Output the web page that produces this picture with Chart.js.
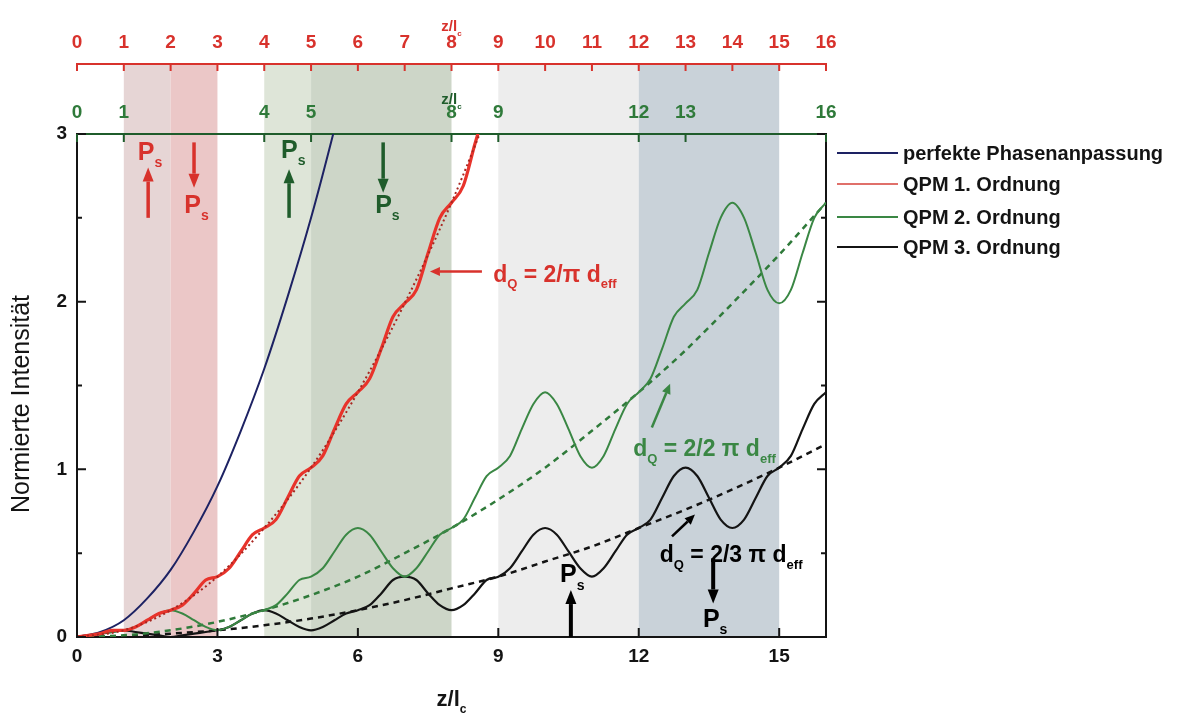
<!DOCTYPE html>
<html>
<head>
<meta charset="utf-8">
<script src="https://cdn.jsdelivr.net/npm/chart.js@4.4.1/dist/chart.umd.min.js"></script>
<style>
  html, body { margin: 0; padding: 0; background: #fff; }
  #wrap { width: 1204px; height: 713px; }
</style>
</head>
<body>
<div id="wrap"><canvas id="chart" width="1204" height="713"></canvas></div>
<script>
// z / l_c sample positions
const zFine = [0,0.25,0.5,0.75,1,1.25,1.5,1.75,2,2.25,2.5,2.75,3,3.25,3.5,3.75,4,4.25,4.5,4.75,5,5.25,5.5,5.75,6,6.25,6.5,6.75,7,7.25,7.5,7.75,8,8.25,8.5,8.75,9,9.25,9.5,9.75,10,10.25,10.5,10.75,11,11.25,11.5,11.75,12,12.25,12.5,12.75,13,13.25,13.5,13.75,14,14.25,14.5,14.75,15,15.25,15.5,15.75,16];
const zHalf = [0,0.5,1,1.5,2,2.5,3,3.5,4,4.5,5,5.5,6];
const zInt = [0,1,2,3,4,5,6,7,8,9,10,11,12,13,14,15,16];

const perfect = [0,0.03,0.10,0.23,0.40,0.63,0.90,1.23,1.60,2.03,2.50,3.03,3.60];
const qpm1 = [0,0.01,0.02,0.04,0.04,0.06,0.10,0.14,0.16,0.19,0.26,0.34,0.36,0.41,0.51,0.61,0.65,0.70,0.83,0.96,1.01,1.08,1.24,1.39,1.46,1.54,1.72,1.91,1.99,2.07,2.29,2.50,2.59,2.69,2.94,3.18];
const qpm1Avg = [0,0.04,0.16,0.36,0.65,1.01,1.46,1.99,2.59,3.28];
const qpm2 = [0,0.01,0.02,0.03,0.04,0.06,0.10,0.14,0.16,0.14,0.10,0.06,0.04,0.06,0.10,0.14,0.16,0.19,0.26,0.34,0.36,0.41,0.51,0.61,0.65,0.61,0.51,0.41,0.36,0.41,0.51,0.61,0.65,0.70,0.83,0.96,1.01,1.08,1.24,1.39,1.46,1.39,1.24,1.08,1.01,1.08,1.24,1.39,1.46,1.54,1.72,1.91,1.99,2.07,2.29,2.50,2.59,2.50,2.29,2.07,1.99,2.07,2.29,2.50,2.59];
const qpm2Avg = [0,0.01,0.04,0.09,0.16,0.25,0.36,0.50,0.65,0.82,1.01,1.23,1.46,1.71,1.99,2.28,2.59];
const qpm3 = [0,0.01,0.02,0.03,0.04,0.03,0.02,0.01,0,0.01,0.02,0.03,0.04,0.06,0.10,0.14,0.16,0.14,0.10,0.06,0.04,0.06,0.10,0.14,0.16,0.19,0.26,0.34,0.36,0.34,0.26,0.19,0.16,0.19,0.26,0.34,0.36,0.41,0.51,0.61,0.65,0.61,0.51,0.41,0.36,0.41,0.51,0.61,0.65,0.70,0.83,0.96,1.01,0.96,0.83,0.70,0.65,0.70,0.83,0.96,1.01,1.08,1.24,1.39,1.46];
const qpm3Avg = [0,0.005,0.02,0.04,0.07,0.11,0.16,0.22,0.29,0.36,0.45,0.54,0.65,0.76,0.88,1.01,1.15];

// axis ticks
const bottomTicks = [0,3,6,9,12,15];
const redTicks = [0,1,2,3,4,5,6,7,8,9,10,11,12,13,14,15,16];
const greenTicks = [0,1,4,5,8,9,12,13,16];
const yTicks = [0,1,2,3];
const yMinor = [0.5,1.5,2.5];

// shaded domains
const bandFrom = [1,2,4,5,9,12];
const bandTo = [2,3,5,8,12,15];
const bandColors = ['#e6d5d5','#ebc7c7','#dee5d8','#cdd6c8','#ededed','#c9d2d9'];

const legendNames = ['perfekte Phasenanpassung','QPM 1. Ordnung','QPM 2. Ordnung','QPM 3. Ordnung'];

const FONT = '"Liberation Sans", Arial, Helvetica, sans-serif';
const RED = '#d8322c';
const GREEN = '#3a8744';
const DKGREEN = '#1f5c2b';
const NAVY = '#1d2263';
const BLACK = '#141414';

const pts = (xs, ys) => ys.map((v, i) => ({x: xs[i], y: v}));

function rich(ctx, x, y, parts, size, color, align) {
  const sub = Math.round(size * 0.55);
  let w = 0;
  parts.forEach(p => {
    ctx.font = 'bold ' + (p.s ? sub : size) + 'px ' + FONT;
    w += ctx.measureText(p.t).width;
  });
  let cx = align === 'center' ? x - w / 2 : x;
  ctx.fillStyle = color;
  ctx.textAlign = 'left';
  ctx.textBaseline = 'alphabetic';
  parts.forEach(p => {
    ctx.font = 'bold ' + (p.s ? sub : size) + 'px ' + FONT;
    ctx.fillText(p.t, cx, y + (p.s ? size * 0.3 : 0));
    cx += ctx.measureText(p.t).width;
  });
}

function arrow(ctx, x1, y1, x2, y2, color, lw, hl, hw) {
  const a = Math.atan2(y2 - y1, x2 - x1);
  const bx = x2 - hl * Math.cos(a), by = y2 - hl * Math.sin(a);
  ctx.strokeStyle = color;
  ctx.lineWidth = lw;
  ctx.beginPath();
  ctx.moveTo(x1, y1);
  ctx.lineTo(bx, by);
  ctx.stroke();
  ctx.fillStyle = color;
  ctx.beginPath();
  ctx.moveTo(x2, y2);
  ctx.lineTo(bx + hw * Math.sin(a), by - hw * Math.cos(a));
  ctx.lineTo(bx - hw * Math.sin(a), by + hw * Math.cos(a));
  ctx.closePath();
  ctx.fill();
}

// annotation anchors in data units
const arrows = [
  {from: [1.52, 2.50], to: [1.52, 2.80], color: RED, lw: 3.5},
  {from: [2.50, 2.95], to: [2.50, 2.68], color: RED, lw: 3.5},
  {from: [4.53, 2.50], to: [4.53, 2.79], color: DKGREEN, lw: 3.5},
  {from: [6.54, 2.95], to: [6.54, 2.65], color: DKGREEN, lw: 3.5},
  {from: [10.55, 0], to: [10.55, 0.28], color: '#000', lw: 4},
  {from: [13.59, 0.47], to: [13.59, 0.20], color: '#000', lw: 4},
  {from: [8.65, 2.18], to: [7.54, 2.18], color: RED, lw: 2.5, thin: true},
  {from: [12.28, 1.25], to: [12.67, 1.51], color: GREEN, lw: 2.5, thin: true},
  {from: [12.71, 0.60], to: [13.20, 0.73], color: '#000', lw: 2.5, thin: true}
];
const psLabels = [
  {x: 1.30, y: 2.845, color: RED},
  {x: 2.29, y: 2.53, color: RED},
  {x: 4.36, y: 2.857, color: DKGREEN},
  {x: 6.37, y: 2.53, color: DKGREEN},
  {x: 10.32, y: 0.328, color: '#000'},
  {x: 13.37, y: 0.06, color: '#000'}
];
const dqLabels = [
  {x: 8.89, y: 2.12, t: ' = 2/\u03c0 d', color: RED},
  {x: 11.88, y: 1.08, t: ' = 2/2 \u03c0 d', color: GREEN},
  {x: 12.45, y: 0.447, t: ' = 2/3 \u03c0 d', color: '#000'}
];

const decor = {
  id: 'decor',
  beforeDraw(chart) {
    const {ctx, chartArea, scales} = chart;
    ctx.save();
    ctx.fillStyle = '#fff';
    ctx.fillRect(0, 0, chart.width, chart.height);
    const top = scales.xR.bottom + 1;
    bandFrom.forEach((a, i) => {
      const x1 = scales.x.getPixelForValue(a);
      const x2 = scales.x.getPixelForValue(bandTo[i]);
      ctx.fillStyle = bandColors[i];
      ctx.fillRect(x1, top, x2 - x1, chartArea.bottom - top);
    });
    ctx.restore();
  },
  afterDatasetsDraw(chart) {
    const {ctx, chartArea, scales} = chart;
    const sx = v => scales.x.getPixelForValue(v);
    const sy = v => scales.y.getPixelForValue(v);
    ctx.save();
    ctx.lineCap = 'butt';

    // inward ticks
    ctx.strokeStyle = BLACK;
    ctx.lineWidth = 2;
    ctx.beginPath();
    yTicks.forEach(v => {
      ctx.moveTo(chartArea.left, sy(v)); ctx.lineTo(chartArea.left + 9, sy(v));
      ctx.moveTo(chartArea.right, sy(v)); ctx.lineTo(chartArea.right - 9, sy(v));
    });
    yMinor.forEach(v => {
      ctx.moveTo(chartArea.left, sy(v)); ctx.lineTo(chartArea.left + 5, sy(v));
      ctx.moveTo(chartArea.right, sy(v)); ctx.lineTo(chartArea.right - 5, sy(v));
    });
    bottomTicks.forEach(v => {
      ctx.moveTo(sx(v), chartArea.bottom); ctx.lineTo(sx(v), chartArea.bottom - 9);
    });
    ctx.stroke();

    ctx.strokeStyle = RED;
    ctx.beginPath();
    const ry = scales.xR.bottom;
    redTicks.forEach(v => { ctx.moveTo(sx(v), ry); ctx.lineTo(sx(v), ry + 7); });
    ctx.stroke();

    ctx.strokeStyle = DKGREEN;
    ctx.beginPath();
    greenTicks.forEach(v => { ctx.moveTo(sx(v), chartArea.top); ctx.lineTo(sx(v), chartArea.top + 8); });
    ctx.stroke();

    // arrows and labels
    arrows.forEach(a => {
      arrow(ctx, sx(a.from[0]), sy(a.from[1]), sx(a.to[0]), sy(a.to[1]), a.color, a.lw,
        a.thin ? 10 : 14, a.thin ? 4.5 : 5.5);
    });
    psLabels.forEach(p => {
      rich(ctx, sx(p.x), sy(p.y), [{t: 'P'}, {t: 's', s: true}], 25, p.color, 'left');
    });
    dqLabels.forEach(p => {
      rich(ctx, sx(p.x), sy(p.y), [{t: 'd'}, {t: 'Q', s: true}, {t: p.t}, {t: 'eff', s: true}], 23, p.color, 'left');
    });

    // axis titles
    const mid = sx(8);
    rich(ctx, mid, 31, [{t: 'z/l'}, {t: 'c', s: true}], 15, RED, 'center');
    rich(ctx, mid, 104, [{t: 'z/l'}, {t: 'c', s: true}], 15, DKGREEN, 'center');
    rich(ctx, (chartArea.left + chartArea.right) / 2, 706, [{t: 'z/l'}, {t: 'c', s: true}], 22, BLACK, 'center');

    ctx.save();
    ctx.translate(22, 404);
    ctx.rotate(-Math.PI / 2);
    ctx.font = '25px ' + FONT;
    ctx.fillStyle = BLACK;
    ctx.textAlign = 'center';
    ctx.textBaseline = 'middle';
    ctx.fillText('Normierte Intensit\u00e4t', 0, 0);
    ctx.restore();

    // legend
    const legColors = [NAVY, '#e0706a', GREEN, BLACK];
    const legRows = [153, 184, 217, 247];
    legendNames.forEach((n, i) => {
      ctx.strokeStyle = legColors[i];
      ctx.lineWidth = 2;
      ctx.beginPath();
      ctx.moveTo(837, legRows[i]); ctx.lineTo(898, legRows[i]);
      ctx.stroke();
      ctx.font = 'bold 20px ' + FONT;
      ctx.fillStyle = BLACK;
      ctx.textAlign = 'left';
      ctx.textBaseline = 'middle';
      ctx.fillText(n, 903, legRows[i] + 1);
    });
    ctx.restore();
  }
};

const tickFont = {family: FONT, size: 19, weight: 'bold'};

new Chart(document.getElementById('chart'), {
  type: 'line',
  data: {
    datasets: [
      {data: pts(zInt, qpm1Avg), borderColor: '#a82620', borderWidth: 2, borderDash: [2, 3]},
      {data: pts(zFine, qpm1), borderColor: '#e8332b', borderWidth: 3.2},
      {data: pts(zHalf, perfect), borderColor: NAVY, borderWidth: 2},
      {data: pts(zFine, qpm2), borderColor: GREEN, borderWidth: 2},
      {data: pts(zInt, qpm2Avg), borderColor: '#2f7a3a', borderWidth: 2.5, borderDash: [6, 5]},
      {data: pts(zFine, qpm3), borderColor: BLACK, borderWidth: 2.2},
      {data: pts(zInt, qpm3Avg), borderColor: BLACK, borderWidth: 2.5, borderDash: [6, 5]}
    ]
  },
  options: {
    responsive: false,
    animation: false,
    devicePixelRatio: 1,
    layout: {padding: 0},
    elements: {point: {radius: 0}, line: {cubicInterpolationMode: 'monotone', fill: false}},
    plugins: {legend: {display: false}, tooltip: {enabled: false}},
    scales: {
      x: {
        type: 'linear', position: 'bottom', min: 0, max: 16,
        afterBuildTicks: s => { s.ticks = bottomTicks.map(v => ({value: v})); },
        ticks: {font: tickFont, color: BLACK, padding: 8, maxRotation: 0, autoSkip: false},
        grid: {display: false, drawTicks: false},
        border: {display: true, color: BLACK, width: 2},
        afterFit: s => { s.height = 76; }
      },
      xG: {
        type: 'linear', position: 'top', min: 0, max: 16, weight: 0,
        afterBuildTicks: s => { s.ticks = greenTicks.map(v => ({value: v})); },
        ticks: {font: tickFont, color: '#2f7a3a', padding: 10, maxRotation: 0, autoSkip: false},
        grid: {display: false, drawTicks: false},
        border: {display: true, color: DKGREEN, width: 2},
        afterFit: s => { s.height = 70; }
      },
      xR: {
        type: 'linear', position: 'top', min: 0, max: 16, weight: 1,
        afterBuildTicks: s => { s.ticks = redTicks.map(v => ({value: v})); },
        ticks: {font: tickFont, color: RED, padding: 10, maxRotation: 0, autoSkip: false},
        grid: {display: false, drawTicks: false},
        border: {display: true, color: RED, width: 2},
        afterFit: s => { s.height = 64; }
      },
      y: {
        type: 'linear', position: 'left', min: 0, max: 3,
        afterBuildTicks: s => { s.ticks = yTicks.map(v => ({value: v})); },
        ticks: {font: tickFont, color: BLACK, padding: 10},
        grid: {display: false, drawTicks: false},
        border: {display: true, color: BLACK, width: 2},
        afterFit: s => { s.width = 77; }
      },
      yR: {
        type: 'linear', position: 'right', min: 0, max: 3,
        ticks: {display: false},
        grid: {display: false, drawTicks: false},
        border: {display: true, color: BLACK, width: 2},
        afterFit: s => { s.width = 378; }
      }
    }
  },
  plugins: [decor]
});
</script>
</body>
</html>
